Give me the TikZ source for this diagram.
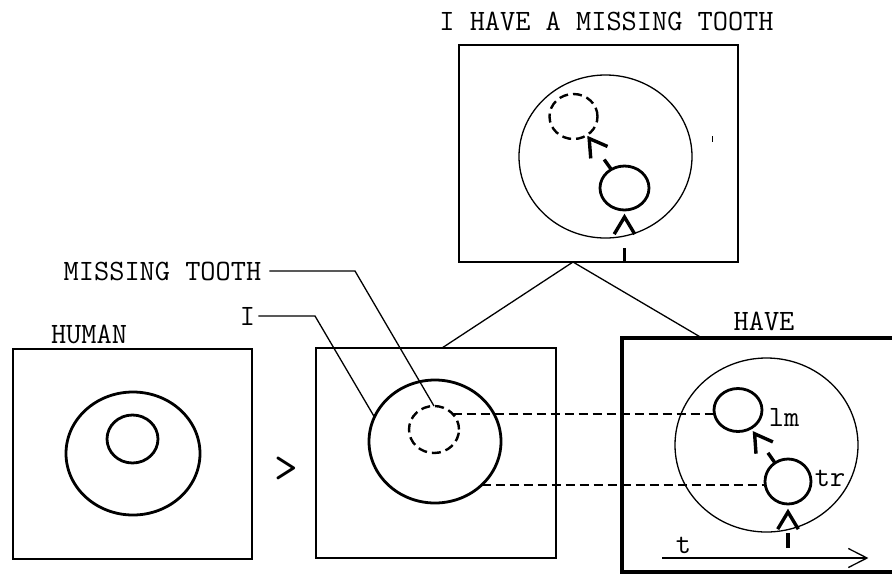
\documentclass[tikz,border=0pt]{standalone}
\usepackage{fontspec}
\usetikzlibrary{shapes.geometric,calc}

\tikzset{
  lbl/.style={font=\ttfamily\fontsize{29.5}{32}\selectfont, inner sep=0pt, anchor=base},
  frame/.style={draw, rectangle, line width=1.8pt, inner sep=0pt, outer sep=0pt},
  headframe/.style={draw, rectangle, line width=4pt, inner sep=0pt, outer sep=0pt},
  face/.style={draw, ellipse, line width=1.3pt, inner sep=0pt, outer sep=0pt},
  tooth/.style={draw, ellipse, line width=2.8pt, inner sep=0pt, outer sep=0pt},
  gap/.style={draw, ellipse, line width=2.4pt, dash pattern=on 9pt off 5pt, inner sep=0pt, outer sep=0pt},
  leader/.style={line width=1.3pt},
  guide/.style={line width=2pt, dash pattern=on 9pt off 5pt},
  shaft/.style={line width=3.4pt},
  barb/.style={line width=3.4pt, line join=miter}
}

\begin{document}
\begin{tikzpicture}[x=1pt,y=-1pt]
\useasboundingbox (0,0) rectangle (892,574);

% ---- top panel: the whole sentence ----
\node[lbl] (title) at (606.5,30) {I HAVE A MISSING TOOTH};
\node[frame, minimum width=279pt, minimum height=217pt] (topbox) at (598.5,153.5) {};
\node[face, minimum width=173pt, minimum height=163pt] (topface) at (605.5,156.5) {};
\node[gap, minimum width=48pt, minimum height=45pt] (topgap) at (573.5,116.5) {};
\node[tooth, minimum width=49pt, minimum height=44pt] (toptooth) at (624.5,188) {};
\coordinate (topbase) at (toptooth.south |- topbox.south);
% tooth moves into the gap
\coordinate (tipA) at ($(topgap)!27pt!(toptooth)$);
\draw[shaft] ($(toptooth)!23pt!(topgap)$) -- ($(toptooth)!35pt!(topgap)$);
\draw[barb] ($(tipA)!20pt!31:(toptooth)$) -- (tipA) -- ($(tipA)!20pt!-31:(toptooth)$);
% tooth rises from the base
\coordinate (tipB) at ($(toptooth.south)+(0,7)$);
\draw[shaft] (topbase) -- ($(topbase)+(0,-14)$);
\draw[barb] ($(tipB)!20pt!31:(topbase)$) -- (tipB) -- ($(tipB)!20pt!-31:(topbase)$);
\draw[line width=1pt] (712.7,136) -- (712.7,142);

% ---- links from the sentence to its parts ----
\coordinate (apex) at (573,262);
\coordinate (midtop) at (442,348);
\coordinate (havetop) at (702,338);
\draw[leader] (midtop) -- (apex) -- (havetop);

% ---- HUMAN ----
\node[lbl] (human) at (89,343) {HUMAN};
\node[frame, minimum width=239pt, minimum height=210pt] (humanbox) at (132.5,454) {};
\node[tooth, minimum width=134pt, minimum height=123pt] (humanouter) at (133,453.5) {};
\node[tooth, minimum width=51pt, minimum height=48pt] (humaninner) at (132.5,439) {};

\node[lbl, anchor=center, font=\ttfamily\fontsize{46}{48}\selectfont] (gt) at (286.5,470) {>};

% ---- I with the missing tooth ----
\node[frame, minimum width=240pt, minimum height=210pt] (midbox) at (436,453) {};
\node[tooth, minimum width=132pt, minimum height=123pt] (me) at (435,441.5) {};
\node[gap, minimum width=50pt, minimum height=47pt] (mt) at (434,429.5) {};

\node[lbl] (lblmt) at (162.5,280) {MISSING TOOTH};
\coordinate (mtbend) at (355,271);
\draw[leader, shorten <=8pt] (lblmt.east) -- (mtbend) -- (mt.north);

\node[lbl] (lblI) at (247.5,325) {I};
\coordinate (ibend) at (315,316);
\draw[leader, shorten <=3pt] (lblI.east) -- (ibend) -- (me.158);

% ---- HAVE ----
\node[lbl] (have) at (764,330) {HAVE};
\node[headframe, minimum width=283pt, minimum height=234pt] (havebox) at (763.5,455) {};
\node[face, minimum width=183pt, minimum height=174pt] (haveface) at (766.5,445) {};
\node[tooth, minimum width=48pt, minimum height=43pt] (lm) at (738,410) {};
\node[tooth, minimum width=46pt, minimum height=45pt] (tr) at (788,481.5) {};
\node[lbl] (lmlbl) at (784,426) {lm};
\node[lbl] (trlbl) at (830,486) {tr};
\coordinate (havebase) at (tr.south |- 0,548);
% tr moves to lm
\coordinate (tipC) at ($(lm)!29pt!(tr)$);
\draw[shaft] ($(tr)!23pt!(lm)$) -- ($(tr)!35pt!(lm)$);
\draw[barb] ($(tipC)!20pt!31:(tr)$) -- (tipC) -- ($(tipC)!20pt!-31:(tr)$);
% tr rises from the base
\coordinate (tipD) at ($(tr.south)+(0,8)$);
\draw[shaft] (havebase) -- ($(havebase)+(0,-15)$);
\draw[barb] ($(tipD)!20pt!31:(havebase)$) -- (tipD) -- ($(tipD)!20pt!-31:(havebase)$);

% time axis
\coordinate (t0) at (662,558);
\coordinate (t1) at (867,558);
\draw[leader] (t0) -- (t1);
\draw[leader, line join=miter] ($(t1)!21pt!27:(t0)$) -- (t1) -- ($(t1)!21pt!-27:(t0)$);
\node[lbl] (tlbl) at (683.5,553) {t};

% ---- correspondences ----
\draw[guide] (mt.40) -- (mt.40 -| lm.west);
\draw[guide] (me.-43) -- (me.-43 -| tr.west);
\end{tikzpicture}
\end{document}
